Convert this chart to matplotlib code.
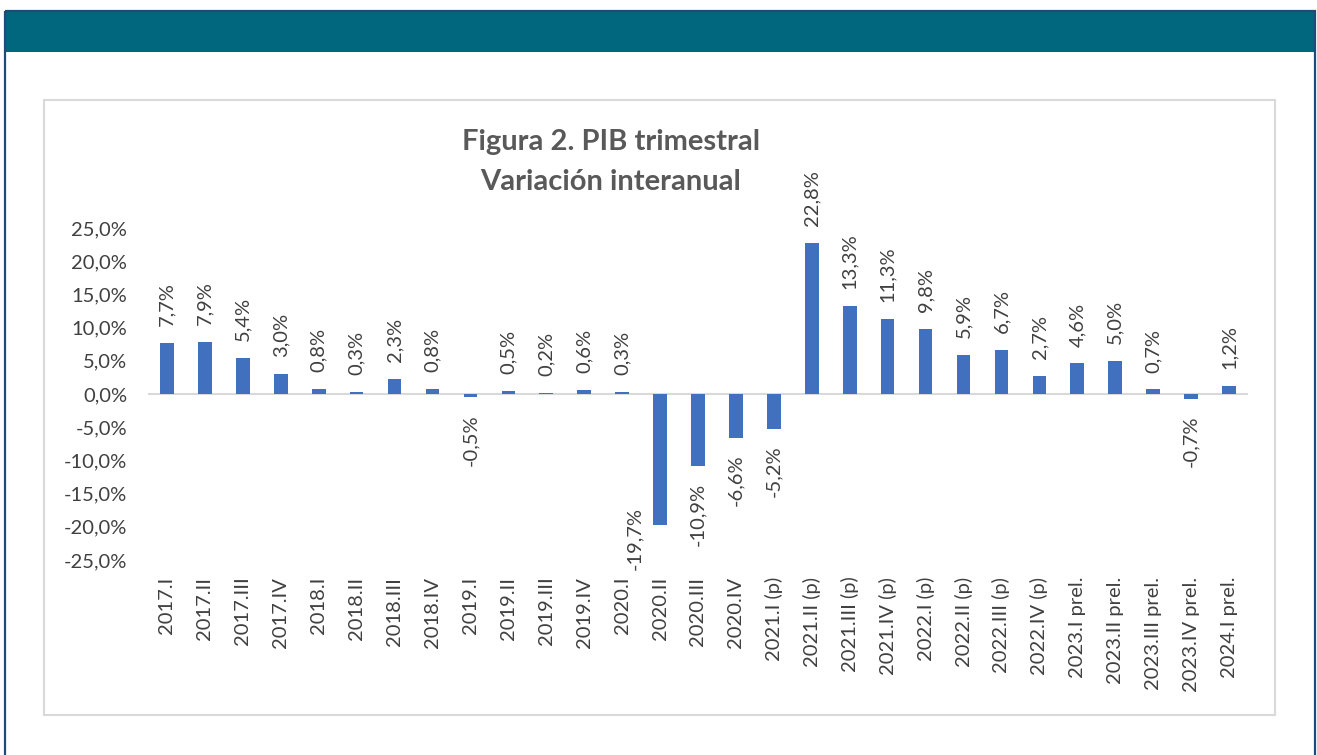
import matplotlib.pyplot as plt
from matplotlib.patches import Rectangle

plt.rcParams['font.family'] = ['Lato', 'DejaVu Sans']

# -------------------------------
# Data
# -------------------------------
quarters = [
    "2017.I", "2017.II", "2017.III", "2017.IV",
    "2018.I", "2018.II", "2018.III", "2018.IV",
    "2019.I", "2019.II", "2019.III", "2019.IV",
    "2020.I", "2020.II", "2020.III", "2020.IV",
    "2021.I (p)", "2021.II (p)", "2021.III (p)", "2021.IV (p)",
    "2022.I (p)", "2022.II (p)", "2022.III (p)", "2022.IV (p)",
    "2023.I prel.", "2023.II prel.", "2023.III prel.", "2023.IV prel.",
    "2024.I prel.",
]
growth = [
    7.7, 7.9, 5.4, 3.0,
    0.8, 0.3, 2.3, 0.8,
    -0.5, 0.5, 0.2, 0.6,
    0.3, -19.7, -10.9, -6.6,
    -5.2, 22.8, 13.3, 11.3,
    9.8, 5.9, 6.7, 2.7,
    4.6, 5.0, 0.7, -0.7,
    1.2,
]
yticks = [-25, -20, -15, -10, -5, 0, 5, 10, 15, 20, 25]

BAR = "#4170BF"
TXT = "#404040"
FS = 14.5

W, H = 1317, 755
fig = plt.figure(figsize=(W / 100, H / 100), dpi=100)

# -------------------------------
# Frame decorations (header bar, outer frame, chart box)
# -------------------------------
deco = fig.add_axes([0, 0, 1, 1])
deco.set_xlim(0, W)
deco.set_ylim(H, 0)
deco.axis("off")
deco.add_patch(Rectangle((5, 11), 1310, 41, facecolor="#00677F", edgecolor="none"))
deco.add_patch(Rectangle((5, 11), 1310, 760, facecolor="none", edgecolor="#1F4A7A", linewidth=1.6))
deco.add_patch(Rectangle((44, 100), 1231, 615, facecolor="white", edgecolor="#D9D9D9", linewidth=1.5))

deco.text(611, 142, "Figura 2. PIB trimestral", ha="center", va="center",
          fontsize=21, fontweight="bold", color="#595959")
deco.text(611, 182, "Variación interanual", ha="center", va="center",
          fontsize=21, fontweight="bold", color="#595959")

# -------------------------------
# Bar chart
# -------------------------------
ax = fig.add_axes([148 / W, 1 - 560 / H, 1100 / W, 332 / H])
ax.patch.set_alpha(0)
x = list(range(len(quarters)))
ax.bar(x, growth, width=0.36, color=BAR, zorder=2)
ax.axhline(0, color="#D9D9D9", linewidth=1.5, zorder=1)

ax.set_xlim(-0.5, len(quarters) - 0.5)
ax.set_ylim(-25, 25)
ax.set_yticks(yticks)
ax.set_yticklabels([f"{v:.1f}%".replace(".", ",") for v in yticks],
                   fontsize=FS, color=TXT)
ax.set_xticks(x)
ax.set_xticklabels(quarters, rotation=90, fontsize=FS, color=TXT)
ax.tick_params(length=0)
ax.tick_params(axis="x", pad=12)
ax.tick_params(axis="y", pad=15)
for s in ax.spines.values():
    s.set_visible(False)

for xi, v in zip(x, growth):
    lbl = f"{v:.1f}%".replace(".", ",")
    if v == -19.7:
        # excel pushed this one to the left of its bar
        ax.annotate(lbl, (xi - 0.68, -17.0), ha="center", va="top", rotation=90,
                    fontsize=FS, color=TXT, annotation_clip=False)
    elif v >= 0:
        ax.annotate(lbl, (xi, v), xytext=(0, 12), textcoords="offset points",
                    ha="center", va="bottom", rotation=90, fontsize=FS,
                    color=TXT, annotation_clip=False)
    else:
        ax.annotate(lbl, (xi, v), xytext=(0, -12), textcoords="offset points",
                    ha="center", va="top", rotation=90, fontsize=FS,
                    color=TXT, annotation_clip=False)

fig.savefig("out.png", dpi=100)
